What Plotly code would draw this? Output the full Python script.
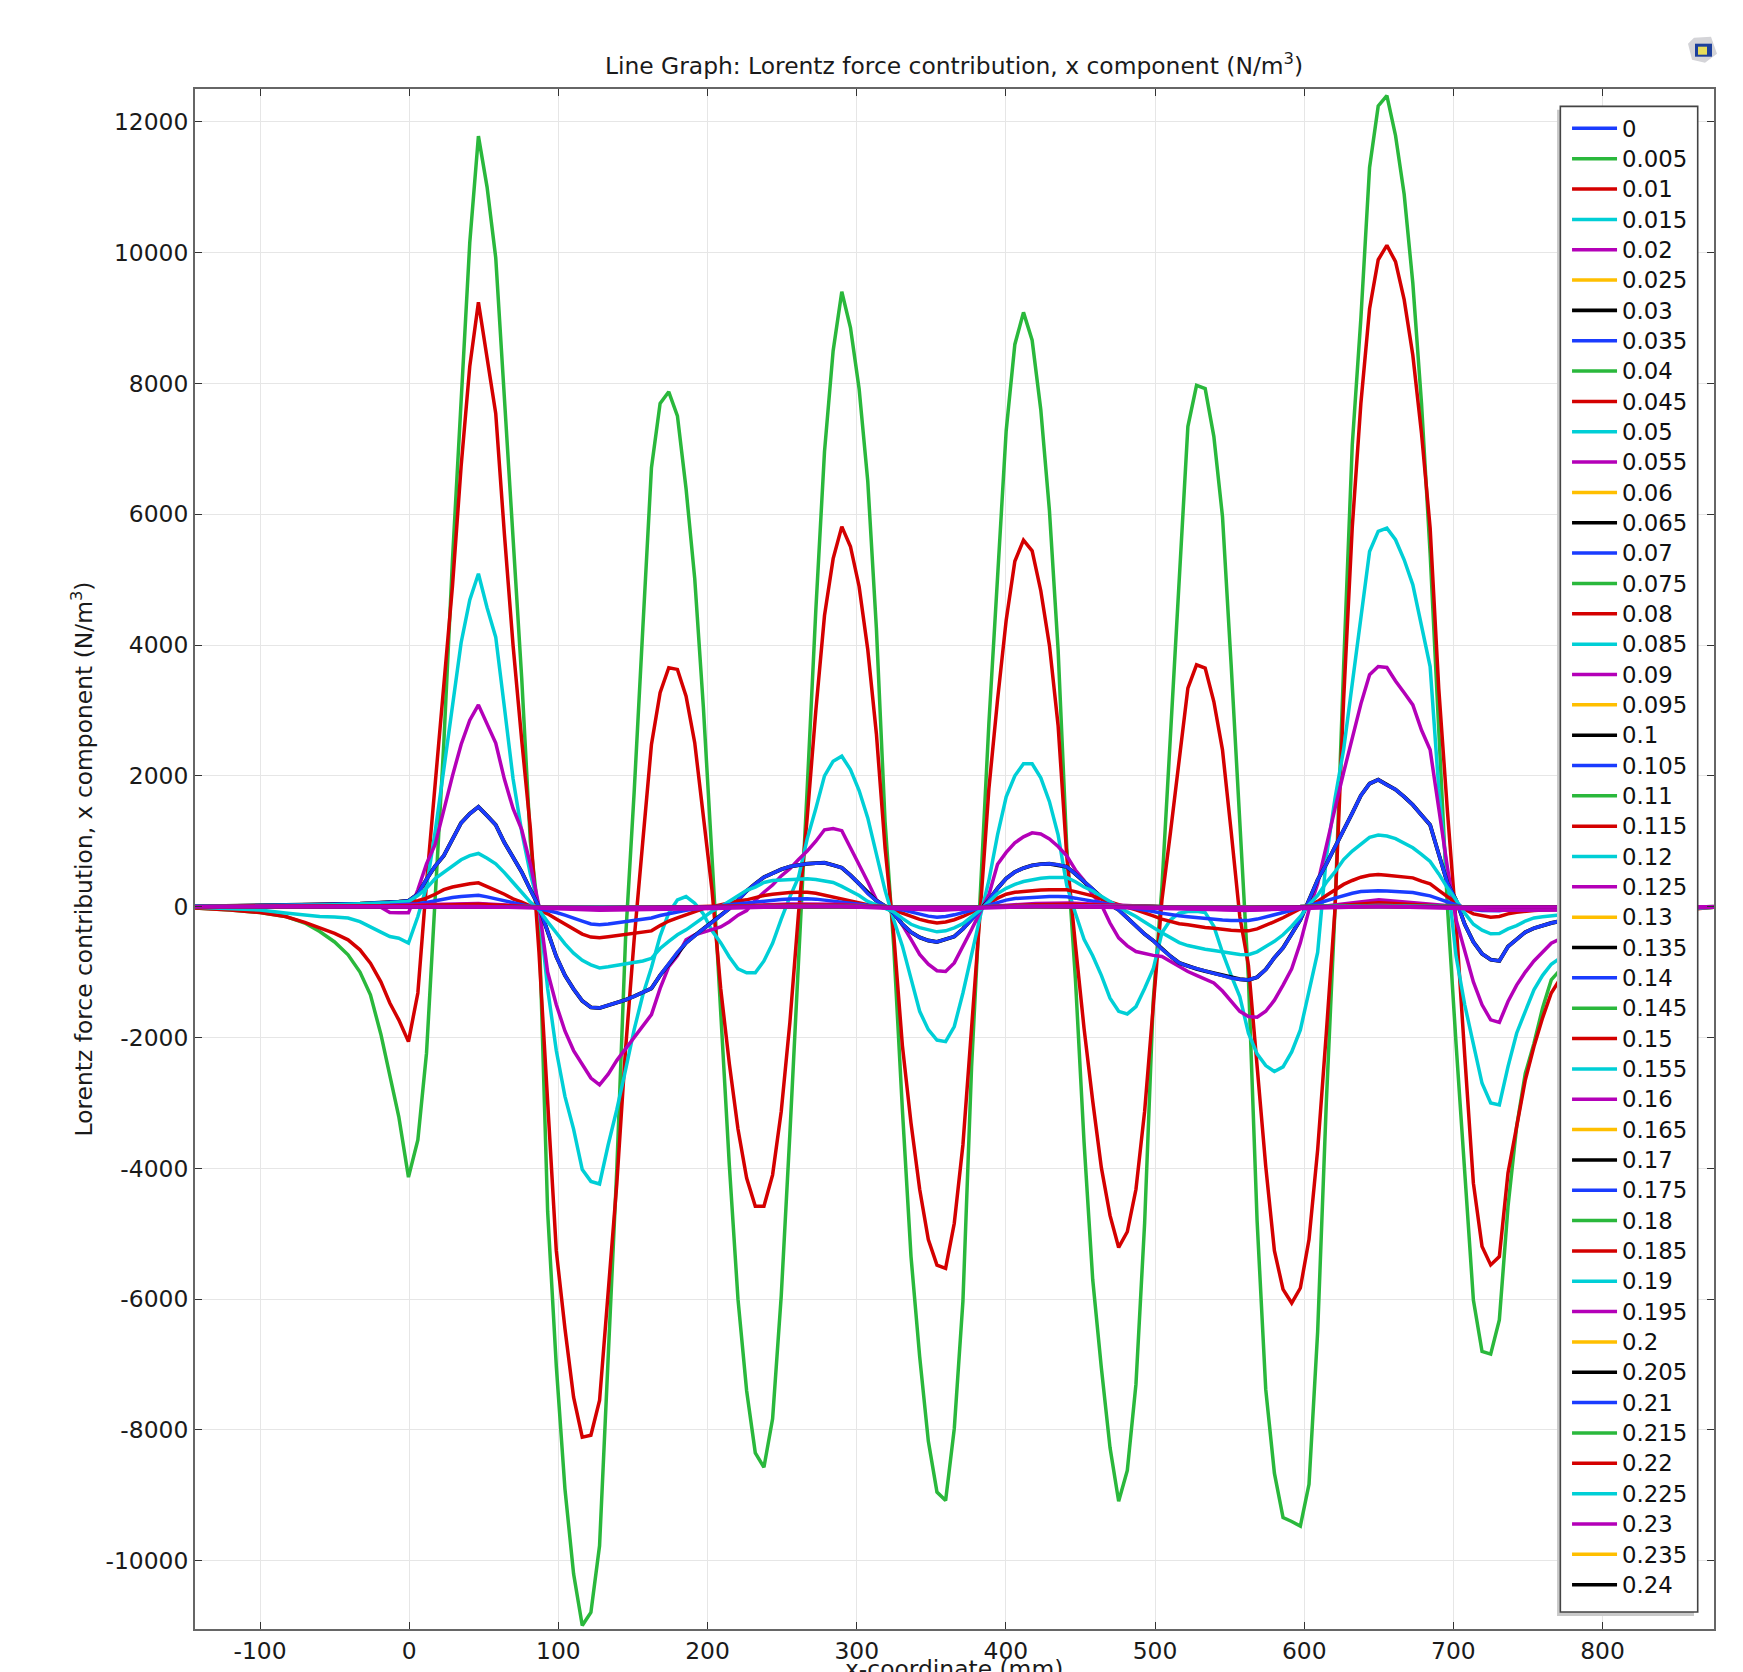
import plotly.graph_objects as go

W, H = 1743, 1672
L, R, T, B = 194.6, 1714.0, 89.3, 1629.0
X_RANGE = [-143.6, 874.7]
Y_RANGE = [-11043, 12500]

X_TICKS = [-100, 0, 100, 200, 300, 400, 500, 600, 700, 800]
Y_TICKS = [-10000, -8000, -6000, -4000, -2000, 0, 2000, 4000, 6000, 8000, 10000, 12000]
Y_TICK_TEXT = ["-10000", "-8000", "-6000", "-4000", "-2000", "0", "2000", "4000", "6000", "8000", "10000", "12000"]

LABELS = ["0", "0.005", "0.01", "0.015", "0.02", "0.025", "0.03", "0.035", "0.04", "0.045", "0.05", "0.055",
          "0.06", "0.065", "0.07", "0.075", "0.08", "0.085", "0.09", "0.095", "0.1", "0.105", "0.11", "0.115",
          "0.12", "0.125", "0.13", "0.135", "0.14", "0.145", "0.15", "0.155", "0.16", "0.165", "0.17", "0.175",
          "0.18", "0.185", "0.19", "0.195", "0.2", "0.205", "0.21", "0.215", "0.22", "0.225", "0.23", "0.235", "0.24"]
COLORS = ["#1a3cff", "#2ab83c", "#d40000", "#00cfd6", "#b400b8", "#ffbf00", "#000000"]

X_FINE = [-143.6, -120, -100, -83, -70, -60, -50, -41, -33, -26, -19, -13, -7,
          -0.5, 5.8, 11.6, 17.4, 23.2, 29, 34.8, 40.6, 46.4, 52.2,
          58, 63.8, 69.6, 75.4, 81.2, 87, 92.8, 98.6, 104.4, 110.2,
          116, 121.8, 127.6, 133.4, 139.2, 145, 150.8, 156.6, 162.4, 168.2,
          174, 179.8, 185.6, 191.4, 197.2, 203, 208.8, 214.6, 220.4, 226.2,
          232, 237.8, 243.6, 249.4, 255.2, 261, 266.8, 272.6, 278.4, 284.2,
          290, 295.8, 301.6, 307.4, 313.2, 319, 324.8, 330.6, 336.4, 342.2,
          348, 353.8, 359.6, 365.4, 371.2, 377, 382.8, 388.6, 394.4, 400.2,
          406, 411.8, 417.6, 423.4, 429.2, 435, 440.8, 446.6, 452.4, 458.2,
          464, 469.8, 475.6, 481.4, 487.2, 493, 498.8, 504.6, 510.4, 516.2,
          522, 527.8, 533.6, 539.4, 545.2, 551, 556.8, 562.6, 568.4, 574.2,
          580, 585.8, 591.6, 597.4, 603.2, 609, 614.8, 620.6, 626.4, 632.2,
          638, 643.8, 649.6, 655.4, 661.2, 667, 672.8, 678.6, 684.4, 690.2,
          696, 701.8, 707.6, 713.4, 719.2, 725, 730.8, 736.6, 742.4, 748.2,
          754, 759.8, 765.6, 780, 800, 825, 850, 874.6]

X_COARSE = [-143.6, -60, -20, -0.5, 46.4, 85, 127.6, 205, 255, 290, 322, 356, 386, 420, 442, 505, 560, 610, 650, 705, 725, 790, 874.6]

S_0005 = [-20, -50, -90, -150, -250, -380, -540, -737, -1000, -1349, -1950, -2600, -3209,
          -4135, -3565, -2240, 100, 2500, 5300, 7700, 10150, 11780, 11000,
          9920, 7800, 5500, 3500, 1000, -200, -4660, -7020, -8900, -10200,
          -10990, -10790, -9770, -6880, -4000, -500, 1750, 4250, 6711, 7694,
          7871, 7504, 6388, 5020, 3050, 750, -1700, -3950, -6000, -7400,
          -8350, -8570, -7830, -5950, -3470, -900, 1800, 4540, 6955, 8500,
          9400, 8852, 7919, 6504, 4250, 1300, -600, -3100, -5350, -6880,
          -8170, -8950, -9080, -7980, -6030, -2450, 100, 2800, 5030, 7276,
          8595, 9085, 8660, 7597, 6052, 3930, 900, -1100, -3600, -5700,
          -7050, -8270, -9090, -8620, -7300, -4840, -1430, 300, 2650, 5000,
          7340, 7970, 7920, 7190, 5965, 3700, 1350, -1100, -4800, -7380,
          -8660, -9340, -9400, -9470, -8830, -6500, -3000, -50, 3660, 7060,
          9000, 11300, 12240, 12400, 11790, 10890, 9530, 7700, 5400, 2700,
          0, -2100, -4070, -6014, -6800, -6840, -6319, -4585, -3362, -2550,
          -2090, -1550, -1120, -750, -350, -130, -50, -10]

S_0010 = [-20, -50, -90, -150, -240, -330, -410, -507, -660, -865, -1150, -1473, -1731,
          -2063, -1320, 360, 1890, 3300, 4900, 6730, 8260, 9240, 8430,
          7540, 5700, 4000, 2550, 1200, -700, -3000, -5260, -6450, -7500,
          -8110, -8080, -7550, -5800, -4227, -2190, -500, 1000, 2480, 3271,
          3653, 3627, 3217, 2507, 1415, 250, -1250, -2400, -3400, -4150,
          -4580, -4580, -4100, -3130, -1770, -100, 1360, 3000, 4450, 5320,
          5810, 5507, 4895, 3930, 2640, 900, -420, -2120, -3310, -4320,
          -5090, -5480, -5530, -4840, -3640, -1940, -70, 1800, 3160, 4380,
          5280, 5602, 5440, 4830, 3994, 2770, 780, -580, -1860, -2970,
          -3990, -4720, -5210, -4970, -4320, -3130, -1430, 100, 1150, 2250,
          3341, 3697, 3646, 3136, 2397, 1150, -150, -900, -2445, -3970,
          -5260, -5850, -6060, -5830, -5090, -3718, -1933, -50, 3160, 5800,
          7700, 9140, 9890, 10110, 9860, 9280, 8430, 7240, 5790, 3330,
          1460, -250, -2280, -4227, -5197, -5477, -5350, -4070, -3362, -2650,
          -2139, -1700, -1320, -800, -380, -150, -60, -10]

S_0015 = [-10, -25, -50, -97, -125, -152, -160, -173, -230, -304, -390, -457, -482,
          -556, -150, 307, 1145, 2100, 3050, 4035, 4690, 5090, 4570,
          4120, 3050, 1960, 1150, 500, 0, -1250, -2200, -2900, -3400,
          -4020, -4200, -4240, -3640, -3100, -2500, -1880, -1350, -930, -450,
          -96, 104, 155, 53, -110, -370, -550, -770, -950, -1010,
          -1010, -830, -560, -190, 150, 450, 1037, 1500, 2000, 2224,
          2300, 2095, 1775, 1357, 779, 250, -200, -600, -1100, -1600,
          -1880, -2040, -2063, -1833, -1320, -720, -150, 400, 1097, 1680,
          2000, 2184, 2184, 1970, 1605, 1097, 325, -100, -500, -750,
          -1050, -1400, -1600, -1640, -1528, -1250, -950, -400, -200, -100,
          -75, -70, -90, -300, -700, -1050, -1374, -1935, -2250, -2430,
          -2521, -2450, -2220, -1885, -1320, -700, 750, 1650, 2400, 3400,
          4437, 5430, 5737, 5787, 5610, 5303, 4920, 4283, 3670, 1800,
          440, -760, -1500, -2100, -2700, -3000, -3030, -2445, -1935, -1600,
          -1272, -1050, -880, -650, -300, -120, -40, -10]

S_0020 = [0, 0, 5, 10, 15, 20, 25, 25, 28, 28, -10, -90, -95,
          -95, 257, 655, 950, 1500, 2000, 2480, 2850, 3085, 2800,
          2500, 1950, 1500, 1180, 650, 0, -1000, -1500, -1900, -2200,
          -2420, -2620, -2725, -2560, -2350, -2180, -2000, -1830, -1650, -1250,
          -916, -750, -508, -430, -390, -340, -310, -230, -130, -60,
          100, 220, 330, 470, 580, 720, 850, 1000, 1175, 1195,
          1162, 900, 650, 380, 104, -10, -60, -270, -500, -730,
          -880, -980, -990, -860, -610, -350, -80, 180, 647, 830,
          976, 1068, 1128, 1110, 1036, 920, 779, 560, 400, 180,
          30, -250, -477, -600, -686, -720, -745, -763, -840, -930,
          -992, -1050, -1110, -1165, -1290, -1450, -1600, -1680, -1690, -1600,
          -1430, -1200, -950, -553, -50, 350, 950, 1500, 2050, 2600,
          3100, 3545, 3672, 3657, 3450, 3270, 3085, 2700, 2397, 1500,
          600, -200, -700, -1150, -1500, -1730, -1770, -1450, -1200, -1000,
          -830, -700, -560, -400, -200, -80, -30, 0]

S_0035 = [5, 10, 15, 20, 25, 30, 35, 40, 45, 50, 55, 65, 75,
          90, 190, 420, 620, 780, 1020, 1280, 1420, 1526, 1390,
          1250, 980, 760, 530, 260, 0, -380, -763, -1050, -1260,
          -1440, -1540, -1550, -1510, -1470, -1425, -1370, -1310, -1250, -1050,
          -880, -700, -553, -440, -340, -240, -130, -30, 100, 240,
          350, 450, 510, 570, 613, 640, 655, 665, 670, 635,
          595, 480, 350, 200, 90, 10, -100, -270, -390, -470,
          -518, -540, -500, -457, -340, -200, -60, 100, 280, 430,
          530, 590, 630, 650, 655, 640, 610, 500, 380, 270,
          130, 30, -50, -170, -304, -420, -520, -650, -760, -860,
          -910, -950, -985, -1020, -1055, -1090, -1110, -1120, -1080, -960,
          -780, -630, -420, -200, 100, 410, 650, 900, 1170, 1430,
          1700, 1880, 1940, 1860, 1790, 1680, 1556, 1400, 1250, 800,
          360, 100, -270, -540, -720, -810, -830, -610, -500, -390,
          -330, -290, -250, -180, -90, -40, -15, 0]

S_0045 = [2, 4, 6, 8, 10, 13, 16, 20, 25, 30, 35, 45, 50,
          60, 90, 130, 190, 260, 300, 330, 350, 364, 300,
          250, 190, 120, 70, 10, -50, -110, -190, -270, -350,
          -420, -465, -477, -460, -440, -420, -400, -385, -370, -290,
          -220, -170, -120, -70, -30, 0, 30, 60, 85, 104,
          140, 170, 190, 205, 216, 220, 220, 205, 175, 150,
          115, 80, 50, 20, 0, -20, -50, -100, -150, -195,
          -228, -250, -235, -200, -150, -90, -25, 50, 130, 190,
          220, 231, 245, 255, 258, 258, 258, 230, 195, 165,
          115, 70, 30, -10, -50, -90, -140, -190, -230, -260,
          -278, -300, -320, -330, -350, -360, -370, -370, -340, -290,
          -230, -170, -100, -30, 20, 80, 170, 260, 340, 400,
          450, 480, 490, 480, 470, 455, 440, 390, 348, 250,
          154, 50, -40, -110, -140, -160, -150, -110, -85, -65,
          -58, -52, -50, -35, -20, -10, -5, 0]

S_0050 = [3, 6, 10, 15, 20, 25, 30, 35, 40, 45, 50, 60, 70,
          80, 170, 280, 430, 530, 630, 717, 780, 813, 740,
          655, 520, 360, 220, 70, -50, -230, -400, -570, -710,
          -820, -890, -937, -920, -900, -880, -850, -830, -790, -640,
          -530, -430, -355, -260, -170, -70, 0, 80, 170, 250,
          300, 370, 400, 405, 410, 420, 425, 415, 395, 370,
          310, 240, 170, 80, 30, -20, -80, -180, -270, -320,
          -355, -385, -370, -325, -260, -160, -50, 70, 200, 280,
          340, 384, 410, 435, 445, 445, 445, 380, 300, 240,
          160, 70, 0, -80, -151, -240, -320, -400, -480, -550,
          -595, -625, -650, -671, -690, -710, -730, -735, -690, -610,
          -530, -430, -300, -150, 30, 170, 370, 530, 720, 850,
          950, 1060, 1095, 1080, 1040, 975, 900, 800, 690, 500,
          287, 100, -100, -270, -360, -415, -410, -340, -290, -220,
          -173, -155, -140, -110, -60, -25, -10, 0]

S_0070 = [1, 2, 3, 4, 5, 6, 8, 10, 12, 15, 18, 22, 26,
          30, 45, 65, 90, 120, 140, 155, 170, 175, 150,
          120, 90, 60, 35, 5, -25, -55, -90, -130, -170,
          -220, -265, -278, -265, -245, -225, -205, -185, -173, -135,
          -105, -80, -55, -35, -15, 0, 15, 30, 45, 60,
          75, 90, 100, 110, 118, 122, 122, 115, 100, 85,
          65, 45, 30, 15, 0, -10, -25, -50, -85, -120,
          -145, -160, -150, -125, -95, -55, -15, 25, 70, 100,
          125, 135, 145, 152, 154, 154, 150, 130, 110, 85,
          60, 35, 15, -5, -25, -50, -75, -100, -125, -140,
          -155, -170, -185, -195, -205, -212, -213, -210, -190, -160,
          -125, -90, -55, -15, 10, 45, 90, 130, 170, 205,
          230, 240, 242, 240, 232, 225, 216, 190, 165, 120,
          70, 25, -15, -45, -60, -65, -62, -45, -35, -28,
          -22, -18, -15, -10, -6, -3, -1, 0]

FAINT_MAGENTA = [0, 5, 15, 25, 50, 0, -45, 0, 40, 35, 0, -50, 0, 50, 55, 0, -60, 0, 105, 0, -20, -5, 0]
FAINT_RED = [0, 3, 10, 15, 35, -5, -30, 0, 25, 20, -5, -30, -5, 30, 35, -5, -35, -5, 60, -5, -15, -5, 0]
FAINT_A = [0, 2, 5, 8, 18, -3, -18, -2, 14, 12, -3, -18, -3, 18, 20, -3, -20, -3, 30, -3, -8, -3, 0]
FAINT_B = [0, 1, 3, 5, 10, -2, -10, -1, 8, 6, -2, -10, -2, 10, 12, -2, -12, -2, 16, -2, -5, -2, 0]
FAINT_C = [0, 0, 2, 3, 6, -2, -6, -1, 5, 4, -2, -6, -2, 6, 7, -2, -8, -2, 9, -2, -3, -1, 0]
FAINT_LOW = [0, 0, 1, 2, 3, -20, -55, -30, 3, 2, -20, -55, -20, 3, 3, -30, -55, -20, 4, -30, -55, -50, -10]
FAINT_TOP = [0, 0, 1, 2, 3, -8, -12, -8, 3, 2, -8, -12, -8, 3, 3, -8, -12, -8, 4, -8, -10, -4, 0]
FLAT_ZERO = [0, 0, 0, 0, 0, 0, 0, 0, 0, 0, 0, 0, 0, 0, 0, 0, 0, 0, 0, 0, 0, 0, 0]

SERIES = {
    "0": FLAT_ZERO, "0.005": S_0005, "0.01": S_0010, "0.015": S_0015, "0.02": S_0020,
    "0.025": S_0035, "0.03": S_0035, "0.035": S_0035, "0.04": FAINT_A, "0.045": S_0045,
    "0.05": S_0050, "0.055": FAINT_A, "0.06": FAINT_B, "0.065": FAINT_B, "0.07": S_0070,
    "0.075": FAINT_A, "0.08": FAINT_RED, "0.085": FAINT_A, "0.09": FAINT_MAGENTA, "0.095": FAINT_B,
    "0.1": FAINT_B, "0.105": FAINT_B, "0.11": FAINT_B, "0.115": FAINT_RED, "0.12": FAINT_B,
    "0.125": FAINT_B, "0.13": FAINT_C, "0.135": FAINT_C, "0.14": FAINT_C, "0.145": FAINT_C,
    "0.15": FAINT_C, "0.155": FAINT_C, "0.16": FAINT_C, "0.165": FAINT_C, "0.17": FAINT_C,
    "0.175": FAINT_C, "0.18": FAINT_C, "0.185": FAINT_C, "0.19": FAINT_C, "0.195": FAINT_LOW,
    "0.2": FAINT_C, "0.205": FAINT_C, "0.21": FAINT_C, "0.215": FAINT_C, "0.22": FAINT_C,
    "0.225": FAINT_C, "0.23": FAINT_TOP, "0.235": FAINT_TOP, "0.24": FAINT_TOP,
}
DRAW_LAST = ["0.195", "0.23"]

for arr in (S_0005, S_0010, S_0015, S_0020, S_0035, S_0045, S_0050, S_0070):
    assert len(arr) == len(X_FINE), len(arr)


def px(x):
    return (x - L) / (R - L)


def py(y):
    return (B - y) / (B - T)


fig = go.Figure()
order = [i for i, lab in enumerate(LABELS) if lab not in DRAW_LAST] + [LABELS.index(lab) for lab in DRAW_LAST]
for i in order:
    label = LABELS[i]
    values = SERIES[label]
    xs = X_FINE if len(values) == len(X_FINE) else X_COARSE
    fig.add_trace(go.Scatter(
        x=xs, y=values, mode="lines",
        name=f"<span style='font-size:22.8px'>{label}</span>",
        legendrank=i + 1,
        line=dict(color=COLORS[i % 7], width=3.9 if label == "0.03" else 3.5),
        hoverinfo="skip",
    ))

FONT = "DejaVu Sans"
TEXT = "#1a1a1a"
SIZE = 23.4
axis = dict(
    showgrid=True, gridcolor="#e6e6e6", gridwidth=1.2, zeroline=False,
    showline=True, linecolor="#666666", linewidth=2, mirror="ticks",
    ticks="inside", ticklen=7, tickwidth=1.2, tickcolor="#333333",
    tickfont=dict(family=FONT, size=SIZE, color=TEXT),
)

box_shapes = [
    dict(type="rect", xref="paper", yref="paper", x0=px(1557), x1=px(1694), y0=py(1616), y1=py(110),
         fillcolor="#c9c9c9", line=dict(width=0), layer="above"),
    dict(type="rect", xref="paper", yref="paper", x0=px(1560.3), x1=px(1697.7), y0=py(1612), y1=py(106.7),
         fillcolor="#ffffff", line=dict(color="#444444", width=1.6), layer="above"),
]
icon_pts = [(1688, 44), (1694, 38), (1711, 37), (1717, 54), (1705, 63), (1692, 60)]
icon_path = "M " + " L ".join(f"{px(a)},{py(b)}" for a, b in icon_pts) + " Z"
icon_shapes = [
    dict(type="path", xref="paper", yref="paper", path=icon_path, fillcolor="#d4d4d8", line=dict(width=0), layer="above"),
    dict(type="rect", xref="paper", yref="paper", x0=px(1695), x1=px(1712), y0=py(57), y1=py(44),
         fillcolor="#1c3f9c", line=dict(width=0), layer="above"),
    dict(type="rect", xref="paper", yref="paper", x0=px(1698), x1=px(1707), y0=py(55), y1=py(47),
         fillcolor="#e6dc5a", line=dict(width=0), layer="above"),
]

fig.update_layout(
    width=W, height=H, autosize=False,
    margin=dict(l=L, r=W - R, t=T, b=H - B, pad=0, autoexpand=False),
    paper_bgcolor="white", plot_bgcolor="white",
    font=dict(family=FONT, color=TEXT),
    title=dict(
        text="Line Graph: Lorentz force contribution, x component (N/m<sup>3</sup>)",
        x=954 / W, xanchor="center", xref="container",
        y=1 - 66 / H, yanchor="middle", yref="container",
        font=dict(family=FONT, size=SIZE, color=TEXT),
    ),
    xaxis=dict(axis, range=X_RANGE, tickmode="array", tickvals=X_TICKS,
               ticktext=[str(v) for v in X_TICKS]),
    yaxis=dict(axis, range=Y_RANGE, tickmode="array", tickvals=Y_TICKS, ticktext=Y_TICK_TEXT,
               automargin=True,
               title=dict(text="Lorentz force contribution, x component (N/m<sup>3</sup>)", standoff=6,
                          font=dict(family=FONT, size=SIZE, color=TEXT))),
    annotations=[dict(
        text="x-coordinate (mm)", xref="paper", yref="paper", x=px(954), y=py(1653),
        xanchor="center", yanchor="top", showarrow=False,
        font=dict(family=FONT, size=SIZE, color=TEXT),
    )],
    legend=dict(
        x=px(1567), y=py(108.5), xanchor="left", yanchor="top",
        bgcolor="rgba(0,0,0,0)", borderwidth=0,
        font=dict(family=FONT, size=21.03, color="#111111"),
        itemwidth=45, itemclick=False, itemdoubleclick=False,
        tracegroupgap=0,
    ),
    shapes=box_shapes + icon_shapes,
    hovermode=False,
    showlegend=True,
)

fig.write_html("out.html", config={"displayModeBar": False},
               post_script="document.body.style.margin='0';document.documentElement.style.overflow='hidden';")
